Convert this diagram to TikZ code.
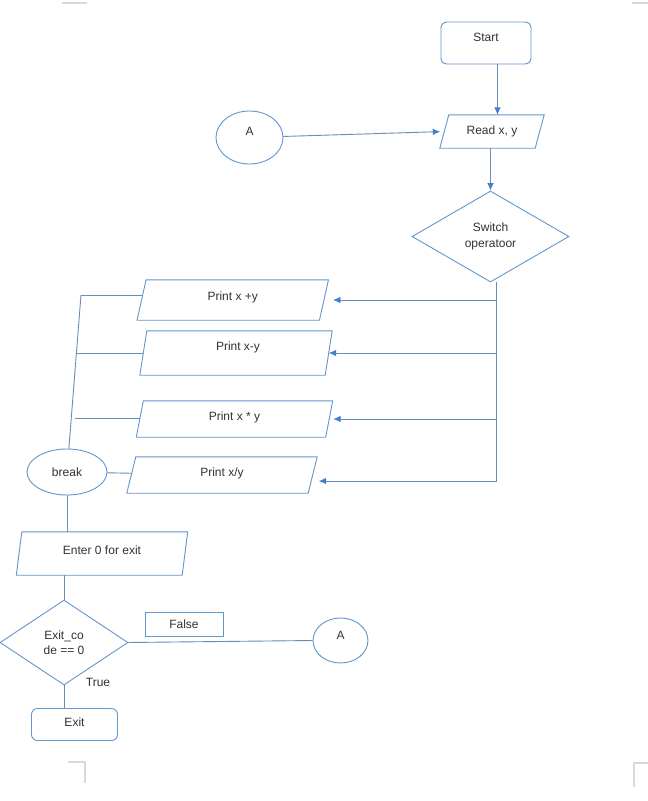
\documentclass[tikz,border=0pt]{standalone}
\usepackage{fontspec}
\setmainfont{Liberation Sans}
\usetikzlibrary{shapes.geometric,arrows.meta}
\definecolor{edge}{RGB}{98,150,205}
\definecolor{wire}{RGB}{105,140,185}
\definecolor{tipblue}{RGB}{62,128,205}
\definecolor{ink}{RGB}{50,50,50}
\definecolor{cropmark}{RGB}{218,218,218}
% outline of a slanted input/output box around a named rectangular node;
% #2 is the horizontal lean of the sides
\newcommand\slantframe[2]{%
  \draw[draw=edge, line width=0.9pt]
    ([xshift=-#2*0.5pt]#1.south west) -- ([xshift=#2*0.5pt]#1.north west) --
    ([xshift=#2*0.5pt]#1.north east) -- ([xshift=-#2*0.5pt]#1.south east) -- cycle;}
\begin{document}
\begin{tikzpicture}[x=1pt,y=-1pt,
  shp/.style={draw=edge, line width=0.9pt, inner sep=1pt, text=ink,
    font=\fontsize{12}{17}\selectfont},
  slot/.style={rectangle, inner sep=1pt, text=ink, font=\fontsize{12}{17}\selectfont},
  term/.style={shp, rectangle, rounded corners=6pt},
  oval/.style={shp, ellipse},
  decide/.style={shp, diamond, align=center},
  wire/.style={draw=wire, line width=0.9pt},
  flow/.style={wire, -{Latex[length=7.5pt,width=6.5pt,color=tipblue]}},
  every label/.style={text=ink, font=\fontsize{12}{17}\selectfont, inner sep=0pt},
  tag/.style={text=ink, font=\fontsize{12}{17}\selectfont, inner sep=0pt},
  crop/.style={draw=cropmark, line width=1.4pt}
]
\fill[white] (0,0) rectangle (648,801);
\useasboundingbox (0,0) rectangle (648,801);

% page corner marks
\draw[crop] (62,3) -- (87,3);
\draw[crop] (632,3) -- (648,3);
\draw[crop] (68,762) -- (85,762) -- (85,783);
\draw[crop] (648,763) -- (634,763) -- (634,787);

% upper part: start, input and the switch
\node[term, minimum width=90pt, minimum height=42pt,
      label={[yshift=6pt]center:Start}] (start) at (486,43) {};
\node[slot, minimum width=95pt, minimum height=33pt,
      label={center:{Read x, y}}] (read) at (492,131.5) {};
\slantframe{read}{9}
\node[oval, minimum width=67pt, minimum height=53pt,
      label={[yshift=6pt]center:A}] (a1) at (249.5,137.5) {};
\node[decide, minimum width=157pt, minimum height=91pt] (switch) at (490.5,236.5)
      {\raisebox{2.5pt}{\shortstack{Switch\\[5pt]operatoor}}};

% the four cases
\node[slot, minimum width=182pt, minimum height=40pt,
      label={[yshift=3pt]center:Print x +y}] (p1) at (232.75,300) {};
\slantframe{p1}{9}
\node[slot, minimum width=185pt, minimum height=44pt,
      label={[xshift=2pt,yshift=6pt]center:Print x-y}] (p2) at (236,353) {};
\slantframe{p2}{7}
\node[slot, minimum width=189pt, minimum height=36pt,
      label={[yshift=2pt]center:Print x * y}] (p3) at (234.5,419) {};
\slantframe{p3}{7}
\node[slot, minimum width=181pt, minimum height=36pt,
      label={[yshift=2pt]center:Print x/y}] (p4) at (222,475) {};
\slantframe{p4}{9}

\node[oval, minimum width=80pt, minimum height=46pt] (brk) at (67,472) {break};

% lower part: exit test
\node[slot, minimum width=165.5pt, minimum height=43pt,
      label={[yshift=3pt]center:Enter 0 for exit}] (enter) at (102,553.5) {};
\slantframe{enter}{5.5}
\node[decide, minimum width=128pt, minimum height=85pt] (exitq) at (64,642.5)
      {\shortstack{Exit\_co\\[1pt]de == 0}};
\node[shp, rectangle, minimum width=78pt, minimum height=24pt] (false) at (184,624) {False};
\node[oval, minimum width=55pt, minimum height=45pt,
      label={[yshift=5pt]center:A}] (a2) at (340.5,640.5) {};
\node[tag] (true) at (98,682) {True};
\node[term, minimum width=86pt, minimum height=32pt,
      label={[yshift=2pt]center:Exit}] (exit) at (74.5,724.5) {};

% helper points
\coordinate (rs) at (497.5,0);
\coordinate (bus) at (496.5,481);
\coordinate (j1) at (81,295);
\coordinate (j2) at (77,353);
\coordinate (j3) at (74.5,418);

% connectors
\draw[flow] (start.south -| rs) -- (read.north -| rs);
\draw[flow, shorten >=4pt] (a1) -- (read.west);
\draw[flow] (read.south -| switch.north) -- (switch.north);
\draw[wire] (switch.south -| bus) -- (bus);
\draw[flow, shorten >=9pt] (bus |- p1.east) -- (p1.east);
\draw[flow] (bus |- p2.east) -- (p2.east);
\draw[flow, shorten >=4pt] (bus |- p3.east) -- (p3.east);
\draw[flow, shorten >=6pt] (bus) -- (bus -| p4.east);

\draw[wire] (j1) -- (brk);
\draw[wire] (j1) -- (j1 -| p1.west);
\draw[wire] (j2) -- (j2 -| p2.west);
\draw[wire] (j3) -- (j3 -| p3.west);
\draw[wire] (brk) -- (p4);

\draw[wire] (brk.south) -- (brk.south |- enter.north);
\draw[wire] (exitq.north |- enter.south) -- (exitq.north);
\draw[wire] (exitq.east) -- (a2.west);
\draw[wire] (exitq.south) -- (exitq.south |- exit.north);
\end{tikzpicture}
\end{document}
